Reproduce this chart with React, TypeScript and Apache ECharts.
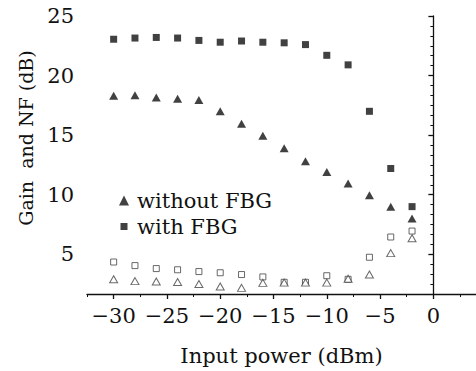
import React, { useEffect, useRef } from 'react';
import * as echarts from 'echarts';

const inputPower = [-30, -28, -26, -24, -22, -20, -18, -16, -14, -12, -10, -8, -6, -4, -2];
const gainWithoutFBG = [18.3, 18.35, 18.15, 18.05, 17.95, 17.0, 15.95, 14.95, 13.9, 12.8, 11.9, 10.95, 9.95, 9.0, 8.0];
const gainWithFBG = [23.05, 23.15, 23.2, 23.15, 22.95, 22.8, 22.9, 22.8, 22.75, 22.6, 21.7, 20.9, 17.0, 12.2, 9.0];
const nfWithFBG = [4.35, 4.05, 3.8, 3.7, 3.55, 3.45, 3.3, 3.1, 2.65, 2.65, 3.2, 2.9, 4.75, 6.45, 6.95];
const nfWithoutFBG = [2.9, 2.75, 2.72, 2.68, 2.5, 2.3, 2.18, 2.6, 2.62, 2.62, 2.62, 2.95, 3.3, 5.1, 6.35];
const xMajorTicks = [-30, -25, -20, -15, -10, -5, 0];
const yMajorTicks = [5, 10, 15, 20, 25];

const FONT = 'DejaVu Serif';
const INK = '#111';

export default function App() {
  const ref = useRef<HTMLDivElement>(null);
  useEffect(() => {
    const chart = echarts.init(ref.current!, null, { renderer: 'svg' });
    const pair = (ys: number[]) => inputPower.map((x, i) => [x, ys[i]]);
    const fmtX = (v: number) => (v < 0 ? '\u2212' + Math.abs(v) : String(v));
    const xMin = -32.5;
    const xMax = 4;
    const yMin = 5 / 3;
    const yMax = 25;
    chart.setOption({
      animation: false,
      backgroundColor: '#fff',
      grid: { left: 87, right: 0, top: 16, bottom: 75 },
      xAxis: [
        {
          type: 'value', min: xMin, max: xMax, interval: 2.5, position: 'bottom',
          axisLine: { lineStyle: { color: INK, width: 1.3 } },
          axisTick: { length: 3, lineStyle: { color: INK } },
          axisLabel: { show: false },
          splitLine: { show: false },
        },
        {
          type: 'value', min: xMin, max: xMax, position: 'bottom',
          axisLine: { show: false },
          axisTick: { show: true, customValues: xMajorTicks, length: 5, lineStyle: { color: INK, width: 1.3 } },
          axisLabel: { customValues: xMajorTicks, formatter: fmtX, fontFamily: FONT, fontSize: 21, color: INK, margin: 11 },
          splitLine: { show: false },
          name: 'Input power (dBm)', nameLocation: 'middle', nameGap: 51,
          nameTextStyle: { fontFamily: FONT, fontSize: 21, color: INK },
        },
      ],
      yAxis: [
        {
          type: 'value', min: yMin, max: yMax, interval: 5 / 6, position: 'left',
          axisLine: { show: true, lineStyle: { color: INK, width: 1.3 } },
          axisTick: { show: true, length: 3, lineStyle: { color: INK } },
          axisLabel: { show: false },
          splitLine: { show: false },
        },
        {
          type: 'value', min: yMin, max: yMax, position: 'left',
          axisLine: { show: false },
          axisTick: { show: true, customValues: yMajorTicks, length: 5, lineStyle: { color: INK, width: 1.3 } },
          axisLabel: { customValues: yMajorTicks, fontFamily: FONT, fontSize: 21, color: INK, margin: 13 },
          splitLine: { show: false },
          name: 'Gain  and NF (dB)', nameLocation: 'middle', nameGap: 52,
          nameTextStyle: { fontFamily: FONT, fontSize: 19, color: INK, padding: [0, 0, 0, 34] },
        },
      ],
      legend: {
        orient: 'vertical', left: 114, top: 185, itemWidth: 10, itemHeight: 10, itemGap: 5,
        data: [
          { name: 'without FBG', icon: 'triangle' },
          { name: 'with FBG', icon: 'path://M0,0 M1.5,1.5 h7 v7 h-7 Z M10,10' },
        ],
        textStyle: { fontFamily: FONT, fontSize: 21, color: INK, padding: [0, 0, 0, 3] },
      },
      series: [
        {
          name: 'without FBG', type: 'scatter', data: pair(gainWithoutFBG), symbol: 'triangle', symbolSize: [9, 8],
          itemStyle: { color: INK },
        },
        {
          name: 'with FBG', type: 'scatter', data: pair(gainWithFBG), symbol: 'rect', symbolSize: 7,
          itemStyle: { color: INK },
        },
        {
          name: 'NF with FBG', type: 'scatter', data: pair(nfWithFBG), symbol: 'rect', symbolSize: 6,
          itemStyle: { color: '#fff', borderColor: '#444', borderWidth: 1 },
        },
        {
          name: 'NF without FBG', type: 'scatter', data: pair(nfWithoutFBG), symbol: 'triangle', symbolSize: [8, 7],
          itemStyle: { color: '#fff', borderColor: '#444', borderWidth: 1 },
        },
      ],
    });
    return () => chart.dispose();
  }, []);
  return <div ref={ref} style={{ position: 'fixed', left: 0, top: 0, width: 476, height: 371 }} />;
}
